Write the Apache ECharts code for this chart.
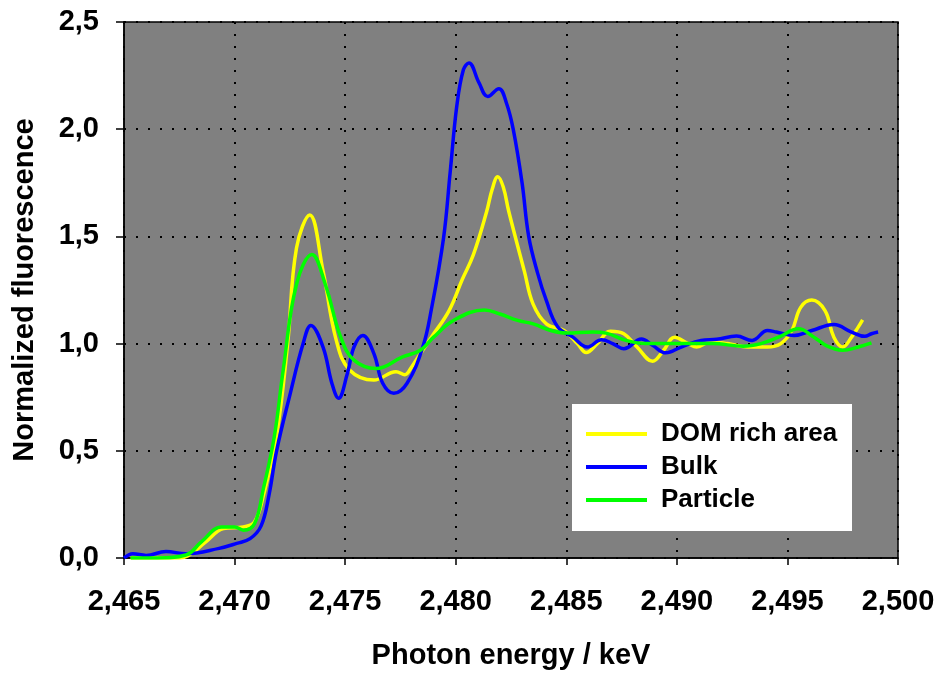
<!DOCTYPE html>
<html>
<head>
<meta charset="utf-8">
<script src="https://cdn.jsdelivr.net/npm/echarts@6/dist/echarts.min.js"></script>
<style>
  html, body { margin: 0; padding: 0; background: #fff; }
  #chart { width: 938px; height: 675px; }
</style>
</head>
<body>
<div id="chart"></div>
<script>
  // energies in eV (axis shows keV), values = normalized fluorescence
  const domEnergy = [2465.3, 2466.5, 2467.5, 2467.9, 2468.7, 2469.5, 2470.4, 2470.9, 2471.3, 2471.9, 2472.4, 2472.8, 2473.4, 2474.0, 2474.6, 2475.2, 2476.3, 2477.3, 2477.7, 2478.0, 2478.4, 2478.9, 2479.7, 2480.3, 2480.8, 2481.4, 2481.65, 2481.9, 2482.15, 2482.4, 2483.1, 2483.5, 2484.1, 2484.9, 2485.5, 2485.9, 2486.4, 2487.0, 2487.6, 2488.2, 2488.9, 2489.4, 2489.9, 2490.5, 2490.9, 2491.5, 2492.3, 2493.2, 2494.1, 2494.7, 2495.2, 2495.6, 2496.1, 2496.7, 2497.1, 2497.5, 2497.9, 2498.2, 2498.4]
  const domValues = [0.0, 0.0, 0.0, 0.01, 0.075, 0.137, 0.145, 0.168, 0.29, 0.57, 1.0, 1.446, 1.60, 1.339, 1.015, 0.877, 0.83, 0.869, 0.855, 0.89, 0.953, 1.03, 1.154, 1.3, 1.415, 1.616, 1.72, 1.778, 1.73, 1.616, 1.339, 1.184, 1.092, 1.061, 1.0, 0.958, 1.0, 1.058, 1.046, 0.984, 0.918, 0.969, 1.03, 1.0, 0.984, 1.007, 1.0, 0.984, 0.984, 1.0, 1.061, 1.169, 1.203, 1.154, 1.03, 0.984, 1.03, 1.077, 1.111]

  const bulkEnergy = [2465.0, 2465.4, 2466.0, 2466.9, 2467.8, 2469.3, 2470.1, 2470.7, 2471.2, 2471.55, 2471.9, 2472.5, 2473.1, 2473.45, 2474.0, 2474.4, 2474.7, 2475.1, 2475.4, 2475.8, 2476.3, 2476.7, 2477.2, 2477.8, 2478.5, 2478.9, 2479.45, 2479.75, 2480.05, 2480.35, 2480.6, 2481.05, 2481.45, 2481.95, 2482.3, 2482.6, 2483.0, 2483.3, 2483.7, 2484.1, 2484.6, 2485.3, 2485.95, 2486.6, 2487.1, 2487.6, 2488.4, 2488.9, 2489.5, 2490.2, 2491.1, 2491.8, 2492.7, 2493.4, 2494.1, 2494.5, 2495.3, 2496.1, 2497.1, 2497.9, 2498.5, 2498.8, 2499.1]
  const bulkValues = [0.0, 0.02, 0.012, 0.03, 0.02, 0.045, 0.068, 0.09, 0.15, 0.29, 0.5, 0.76, 1.0, 1.085, 0.984, 0.815, 0.745, 0.86, 0.984, 1.038, 0.953, 0.815, 0.768, 0.815, 0.98, 1.16, 1.493, 1.8, 2.109, 2.278, 2.309, 2.217, 2.152, 2.189, 2.12, 2.0, 1.75, 1.5, 1.33, 1.2, 1.08, 1.03, 0.984, 1.018, 1.0, 0.976, 1.021, 0.992, 0.957, 0.984, 1.015, 1.02, 1.035, 1.015, 1.061, 1.054, 1.038, 1.061, 1.089, 1.054, 1.034, 1.046, 1.054]

  const particleEnergy = [2465.3, 2466.5, 2467.8, 2468.5, 2469.4, 2470.0, 2470.4, 2470.9, 2471.3, 2471.8, 2472.2, 2472.8, 2473.5, 2474.1, 2474.8, 2475.4, 2476.4, 2477.6, 2478.4, 2479.0, 2479.9, 2481.3, 2482.0, 2482.8, 2483.5, 2484.3, 2485.0, 2486.2, 2486.8, 2487.7, 2488.6, 2490.0, 2491.6, 2493.0, 2493.8, 2494.6, 2495.5, 2496.2, 2496.8, 2497.5, 2498.2, 2498.8]
  const particleValues = [0.0, 0.0, 0.014, 0.075, 0.145, 0.145, 0.13, 0.16, 0.322, 0.568, 0.877, 1.277, 1.415, 1.277, 1.03, 0.923, 0.884, 0.938, 0.969, 1.03, 1.108, 1.157, 1.138, 1.108, 1.092, 1.061, 1.049, 1.054, 1.049, 1.015, 1.0, 1.0, 1.0, 0.988, 1.0, 1.03, 1.069, 1.03, 0.988, 0.969, 0.984, 1.003]

  const seriesNames = ['DOM rich area', 'Bulk', 'Particle']
  const seriesColors = ['#ffff00', '#0000ff', '#00ff00']

  const font = '"Liberation Sans", Arial, sans-serif'

  function pairs (xs, ys) {
    return xs.map((x, i) => [x, ys[i]])
  }

  function makeSeries (idx, xs, ys) {
    return {
      name: seriesNames[idx],
      type: 'line',
      data: pairs(xs, ys),
      smooth: 0.4,
      symbol: 'none',
      lineStyle: { color: seriesColors[idx], width: 3.5 },
      itemStyle: { color: seriesColors[idx] },
      z: 3 + idx
    }
  }

  const myChart = echarts.init(document.getElementById('chart'))
  myChart.setOption({
    animation: false,
    backgroundColor: '#fff',
    textStyle: { fontFamily: font },
    grid: {
      left: 124,
      right: 40,
      top: 22,
      bottom: 112,
      show: true,
      backgroundColor: '#808080',
      borderColor: '#000',
      borderWidth: 1.5
    },
    graphic: [{
      type: 'rect',
      z: 10,
      shape: { x: 572, y: 404, width: 280, height: 127 },
      style: { fill: '#fff' }
    }],
    legend: {
      z: 20,
      left: 586,
      top: 421,
      orient: 'vertical',
      padding: 0,
      itemGap: 7,
      itemWidth: 61,
      itemHeight: 4,
      icon: 'rect',
      data: seriesNames,
      textStyle: {
        fontFamily: font,
        fontWeight: 'bold',
        fontSize: 26,
        color: '#000',
        padding: [0, 0, 0, 9]
      }
    },
    xAxis: {
      type: 'value',
      min: 2465,
      max: 2500,
      interval: 5,
      name: 'Photon energy / keV',
      nameLocation: 'middle',
      nameGap: 83,
      nameTextStyle: { fontFamily: font, fontWeight: 'bold', fontSize: 29, color: '#000' },
      axisLine: { lineStyle: { color: '#000', width: 1.5 } },
      axisTick: { inside: false, length: 7, lineStyle: { color: '#000', width: 1.5 } },
      axisLabel: {
        margin: 29,
        fontFamily: font,
        fontWeight: 'bold',
        fontSize: 29,
        color: '#000',
        formatter: v => (v / 1000).toFixed(3).replace('.', ',')
      },
      splitLine: { show: true, lineStyle: { color: '#000', width: 2, type: [2, 10] } }
    },
    yAxis: {
      type: 'value',
      min: 0,
      max: 2.5,
      interval: 0.5,
      name: 'Normalized fluorescence',
      nameLocation: 'middle',
      nameGap: 85,
      nameTextStyle: { fontFamily: font, fontWeight: 'bold', fontSize: 29, color: '#000' },
      axisLine: { show: true, lineStyle: { color: '#000', width: 1.5 } },
      axisTick: { show: true, inside: false, length: 8, lineStyle: { color: '#000', width: 1.5 } },
      axisLabel: {
        margin: 25,
        fontFamily: font,
        fontWeight: 'bold',
        fontSize: 29,
        color: '#000',
        formatter: v => v.toFixed(1).replace('.', ',')
      },
      splitLine: { show: true, lineStyle: { color: '#000', width: 2, type: [2, 10] } }
    },
    series: [
      makeSeries(0, domEnergy, domValues),
      makeSeries(1, bulkEnergy, bulkValues),
      makeSeries(2, particleEnergy, particleValues)
    ]
  })
</script>
</body>
</html>
